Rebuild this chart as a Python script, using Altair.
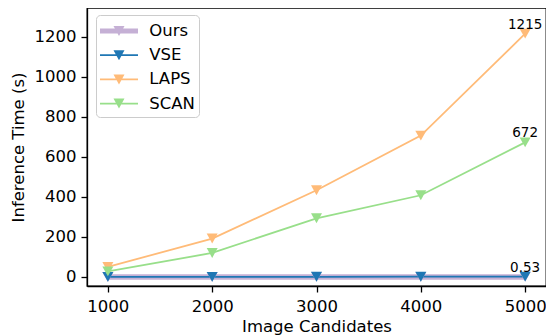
import altair as alt
import pandas as pd

# ---- data ----
candidates = [1000, 2000, 3000, 4000, 5000]
ours = [0.11, 0.21, 0.32, 0.42, 0.53]
vse = [0.35, 0.7, 1.05, 1.4, 1.75]
laps = [50, 192, 433, 706, 1215]
scan = [28, 120, 293, 408, 672]

series_names = ["Ours", "VSE", "LAPS", "SCAN"]
series_colors = ["#c5b0d5", "#1f77b4", "#ffbb78", "#98df8a"]

label_series = ["LAPS", "SCAN", "Ours"]
label_x = [5000, 5000, 5000]
label_values = [1215, 672, 0.53]
label_texts = ["1215", "672", "0.53"]

y_ticks = [0, 200, 400, 600, 800, 1000, 1200]

rows = []
for name, vals in zip(series_names, [ours, vse, laps, scan]):
    for xv, v in zip(candidates, vals):
        rows.append({"series": name, "x": xv, "y": v, "order": series_names.index(name)})
df = pd.DataFrame(rows)

lab_df = pd.DataFrame({"series": label_series, "x": label_x, "y": label_values, "text": label_texts})

FONT = "DejaVu Sans"

# legend symbols: line segment + down triangle (filled paths)
thin = "M-1,-0.075L2.167,-0.075L2.167,0.075L-1,0.075Z"
thick = "M-1,-0.21L2.167,-0.21L2.167,0.21L-1,0.21Z"
tri = "M0.125,-0.417L1.041,-0.417L0.583,0.417Z"
legend_paths = [thick + tri, thin + tri, thin + tri, thin + tri]

color_scale = alt.Scale(domain=series_names, range=series_colors)
xs = alt.Scale(domain=[800, 5200], nice=False, zero=False)
ys = alt.Scale(domain=[-45, 1343], nice=False, zero=False)

x_enc = alt.X("x:Q", scale=xs,
              axis=alt.Axis(title="Image Candidates", values=candidates, format="d",
                            labelPadding=6, titlePadding=4))
y_enc = alt.Y("y:Q", scale=ys,
              axis=alt.Axis(title="Inference Time (s)", values=y_ticks, format="d",
                            labelPadding=5, titlePadding=7.5))

base = alt.Chart(df)

ours_line = base.transform_filter("datum.series == 'Ours'").mark_line(strokeWidth=5.5).encode(
    x=x_enc, y=y_enc, color=alt.Color("series:N", scale=color_scale, legend=None))

other_lines = base.transform_filter("datum.series != 'Ours'").mark_line(strokeWidth=1.8).encode(
    x=x_enc, y=y_enc, color=alt.Color("series:N", scale=color_scale, legend=None))

points = base.mark_point(filled=True, opacity=1, shape="M-1,-0.9L1,-0.9L0,0.9Z", size=121).encode(
    x=x_enc, y=y_enc, color=alt.Color("series:N", scale=color_scale, legend=None),
    order=alt.Order("order:Q"))

labels = alt.Chart(lab_df).mark_text(fontSize=13.5, dy=-5, baseline="alphabetic", align="center",
                                     color="black", font=FONT).encode(
    x=x_enc, y=y_enc, text="text:N")

leg = alt.Legend(title=None, orient="none", legendX=9, legendY=7, padding=4,
                 symbolSize=576, symbolStrokeWidth=0, symbolOpacity=1,
                 labelOffset=25.3, labelFontSize=16.5, labelFont=FONT, labelColor="black",
                 labelBaseline="middle", rowPadding=3.2, labelExpr="datum.label + ' '",
                 fillColor="rgba(255,255,255,0.8)", strokeColor="#cccccc", cornerRadius=4)

legend_layer = base.transform_filter("false").mark_point(filled=True, opacity=1).encode(
    x=x_enc, y=y_enc,
    color=alt.Color("series:N", scale=color_scale, legend=leg),
    shape=alt.Shape("series:N", scale=alt.Scale(domain=series_names, range=legend_paths), legend=leg))

chart = alt.layer(ours_line, other_lines, points, labels, legend_layer).resolve_legend(
    color="independent", shape="independent"
).properties(
    width=459, height=278,
    padding={"left": 79, "top": 0, "right": 0, "bottom": 50},
    autosize=alt.AutoSizeParams(type="none"),
).configure_view(
    stroke="black", strokeWidth=1.3
).configure_axis(
    grid=False, labelFont=FONT, titleFont=FONT, labelFontSize=16.5, titleFontSize=16.5,
    labelColor="black", titleColor="black", titleFontWeight="normal",
    tickSize=6, tickColor="black", tickWidth=1.3, domainColor="black", domainWidth=1.3,
)

chart.save("out.html", embed_options={"renderer": "svg", "actions": False})
